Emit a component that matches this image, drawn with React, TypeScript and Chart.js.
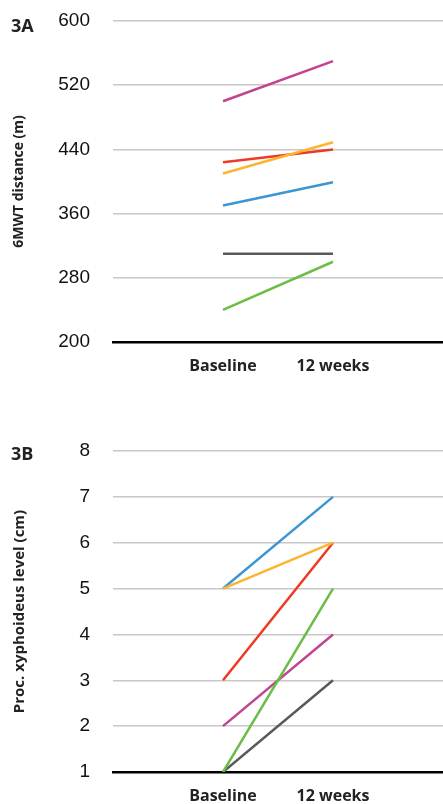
import React, { useEffect, useRef } from "react";
import { Chart, registerables } from "chart.js";

Chart.register(...registerables);

// ---- Data ----
const CATEGORIES = ["", "Baseline", "12 weeks", ""];

// Panel 3A: 6MWT distance (m)
const A_TICKS = [200, 280, 360, 440, 520, 600];
const A_MAGENTA = [500, 550];
const A_RED = [424, 440];
const A_ORANGE = [410, 449];
const A_BLUE = [370, 399];
const A_GRAY = [310, 310];
const A_GREEN = [240, 300];

// Panel 3B: Proc. xyphoideus level (cm)
const B_TICKS = [1, 2, 3, 4, 5, 6, 7, 8];
const B_BLUE = [5, 7];
const B_ORANGE = [5, 6];
const B_RED = [3, 6];
const B_GREEN = [1, 5];
const B_MAGENTA = [2, 4];
const B_GRAY = [1, 3];

const COLORS = {
  magenta: "#c2448e",
  red: "#ee3a24",
  orange: "#fbb52f",
  blue: "#3b96d4",
  gray: "#5a5a5c",
  green: "#6cbd45",
};

const W = 443;
const H = 374;
const CLEAR = "rgba(0,0,0,0)";

function ds(vals: number[], color: string) {
  return {
    data: [null, vals[0], vals[1], null],
    borderColor: color,
    backgroundColor: color,
    borderWidth: 2.5,
    pointRadius: 0,
    pointHoverRadius: 0,
    fill: false,
    tension: 0,
    borderCapStyle: "butt" as const,
  };
}

function makeConfig(datasets: any[], ticks: number[], title: string, titleSize: number) {
  const min = ticks[0];
  const max = ticks[ticks.length - 1];
  const step = ticks[1] - ticks[0];
  return {
    type: "line" as const,
    data: { labels: CATEGORIES, datasets },
    options: {
      responsive: false,
      animation: false as const,
      layout: { padding: { top: 21, left: 0, right: 0, bottom: 0 } },
      plugins: { legend: { display: false }, tooltip: { enabled: false } },
      scales: {
        x: {
          type: "category" as const,
          offset: false,
          grid: {
            display: true,
            drawOnChartArea: false,
            drawTicks: true,
            tickLength: 15,
            color: CLEAR,
            tickColor: CLEAR,
          },
          border: { display: true, color: "#000000", width: 2.5 },
          ticks: {
            padding: 0,
            autoSkip: false,
            maxRotation: 0,
            color: "#222222",
            font: { family: "'Open Sans', sans-serif", size: 16, weight: "bold" as const },
          },
          afterFit: (s: any) => {
            s.height = 32;
          },
        },
        y: {
          min,
          max,
          afterBuildTicks: (s: any) => {
            s.ticks = ticks.map((v) => ({ value: v }));
          },
          ticks: {
            stepSize: step,
            padding: 0,
            color: "#111111",
            font: { family: "'Liberation Sans', Arial, sans-serif", size: 19 },
          },
          grid: {
            drawTicks: true,
            tickLength: 23,
            tickColor: CLEAR,
            color: "#c8c8c8",
            lineWidth: 1.5,
          },
          border: { display: false },
          title: {
            display: true,
            text: title,
            color: "#222222",
            padding: { top: 11, bottom: 0 },
            font: { family: "'Open Sans', sans-serif", size: titleSize, weight: "bold" as const },
          },
          afterFit: (s: any) => {
            s.width = 113;
          },
        },
      },
    },
  };
}

export default function App() {
  const refA = useRef<HTMLCanvasElement>(null);
  const refB = useRef<HTMLCanvasElement>(null);

  useEffect(() => {
    const a = new Chart(
      refA.current!,
      makeConfig(
        [
          ds(A_MAGENTA, COLORS.magenta),
          ds(A_ORANGE, COLORS.orange),
          ds(A_RED, COLORS.red),
          ds(A_BLUE, COLORS.blue),
          ds(A_GRAY, COLORS.gray),
          ds(A_GREEN, COLORS.green),
        ],
        A_TICKS,
        "6MWT distance (m)",
        14
      ) as any
    );
    const b = new Chart(
      refB.current!,
      makeConfig(
        [
          ds(B_GREEN, COLORS.green),
          ds(B_MAGENTA, COLORS.magenta),
          ds(B_ORANGE, COLORS.orange),
          ds(B_BLUE, COLORS.blue),
          ds(B_RED, COLORS.red),
          ds(B_GRAY, COLORS.gray),
        ],
        B_TICKS,
        "Proc. xyphoideus level (cm)",
        15
      ) as any
    );
    return () => {
      a.destroy();
      b.destroy();
    };
  }, []);

  const panelLabel: React.CSSProperties = {
    position: "absolute",
    left: 11,
    fontFamily: "'Open Sans', sans-serif",
    fontWeight: 700,
    fontSize: 18,
    lineHeight: "18px",
    color: "#222222",
  };

  return (
    <div style={{ position: "fixed", left: 0, top: 0, width: W, height: 804, background: "#ffffff" }}>
      <div style={{ position: "absolute", left: 0, top: 0, width: W, height: H }}>
        <canvas ref={refA} width={W} height={H} style={{ display: "block" }} />
      </div>
      <div style={{ position: "absolute", left: 0, top: 430, width: W, height: H }}>
        <canvas ref={refB} width={W} height={H} style={{ display: "block" }} />
      </div>
      <div style={{ ...panelLabel, top: 16 }}>3A</div>
      <div style={{ ...panelLabel, top: 444 }}>3B</div>
    </div>
  );
}
